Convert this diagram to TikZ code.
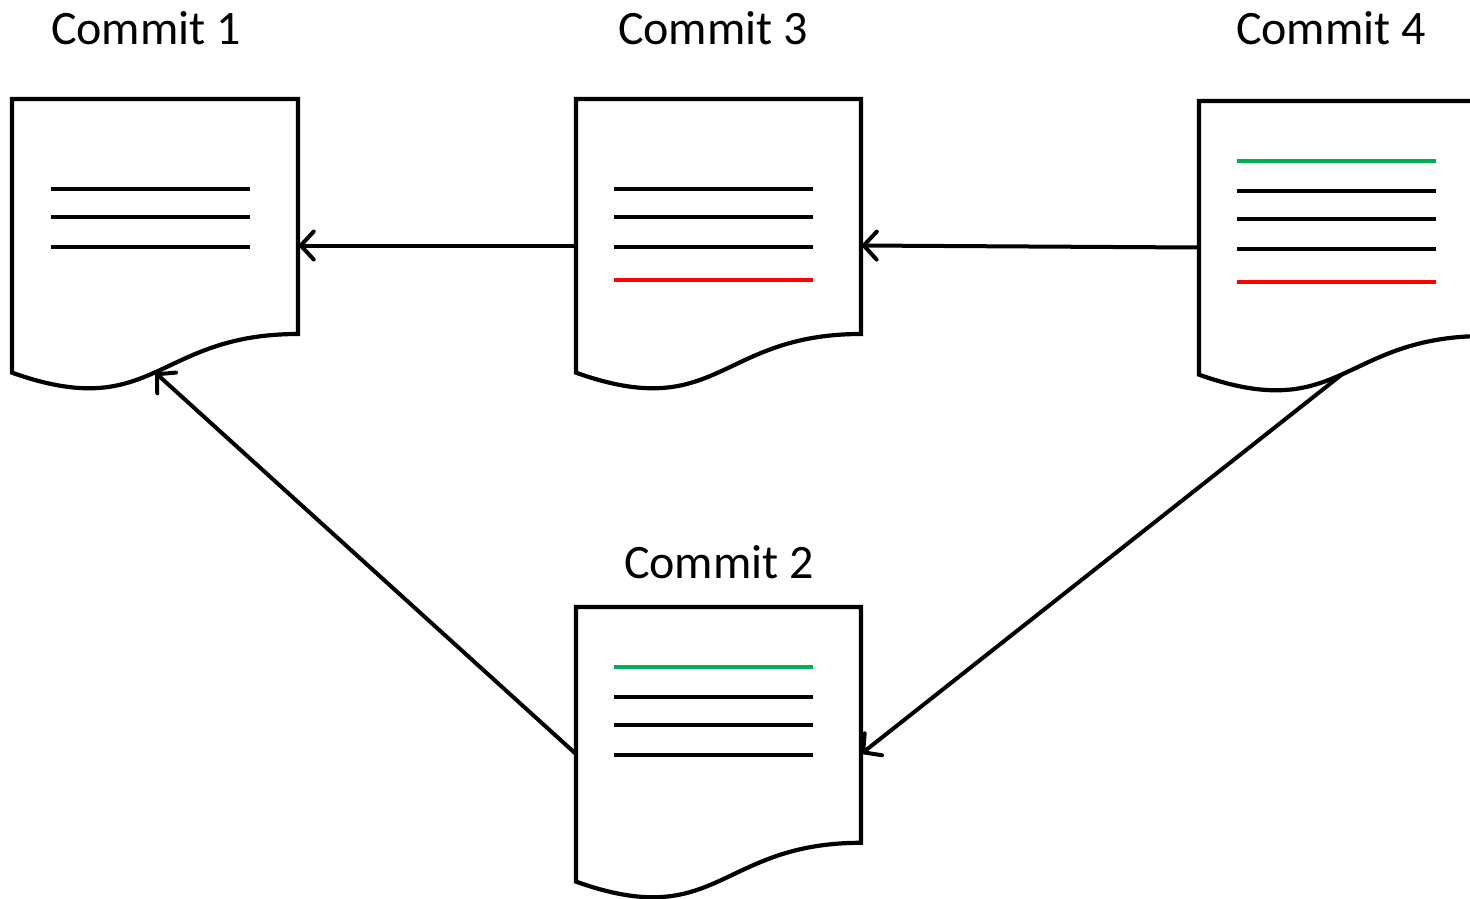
\documentclass[tikz,border=0pt]{standalone}
\usepackage{fontspec}
\setmainfont{Carlito}
\usetikzlibrary{arrows.meta}
\definecolor{okgreen}{HTML}{00B050}
\definecolor{delred}{HTML}{FF0000}
\tikzset{
  docline/.style={line width=4.2pt, line join=miter, fill=white},
  txtline/.style={line width=4.2pt},
  conn/.style={line width=4pt, -{Straight Barb[length=13pt,width=28pt,line cap=round]}},
  lbl/.style={anchor=base, inner sep=0pt, font=\fontsize{48}{52}\selectfont},
}
\newcommand\docshape[5]{%
  \pgfmathsetmacro\dxa{#2+#4}%
  \pgfmathsetmacro\dxm{#2+#4/2}%
  \pgfmathsetmacro\dyb{#3+0.802*#5}%
  \pgfmathsetmacro\dyc{#3+1.1075*#5}%
  \pgfmathsetmacro\dyd{#3+0.934*#5}%
  \pgfmathsetmacro\dym{#3+#5/2}%
  \pgfmathsetmacro\dyw{#3+0.933*#5}%
  \draw[docline] (#2,#3) -- (\dxa,#3) -- (\dxa,\dyb) .. controls (\dxm,\dyb) and (\dxm,\dyc) .. (#2,\dyd) -- cycle;
  \coordinate (#1-l) at (#2,\dym);
  \coordinate (#1-r) at (\dxa,\dym);
  \coordinate (#1-b) at (\dxm,\dyw);
}
\newcommand\tline[3]{% x, y, color
  \draw[txtline, #3] (#1+39,#2) -- (#1+238,#2);
}
\begin{document}
\begin{tikzpicture}[x=1pt,y=-1pt]
\useasboundingbox (0,0) rectangle (1470,898);
\clip (0,0) rectangle (1470,898);

% labels
\node[lbl] (t1) at (146,44) {Commit 1};
\node[lbl] (t3) at (713,44) {Commit 3};
\node[lbl] (t4) at (1331,44) {Commit 4};
\node[lbl] (t2) at (719,578) {Commit 2};

% documents
\docshape{d1}{12}{99}{286}{293}
\docshape{d3}{576}{99}{285}{293}
\docshape{d4}{1199}{101}{286}{293}
\docshape{d2}{576}{607}{285}{294}

% content lines
\tline{12}{189}{black}
\tline{12}{217}{black}
\tline{12}{247}{black}

\tline{575}{189}{black}
\tline{575}{217}{black}
\tline{575}{247}{black}
\tline{575}{280}{delred}

\tline{1198}{161}{okgreen}
\tline{1198}{191}{black}
\tline{1198}{219}{black}
\tline{1198}{249}{black}
\tline{1198}{282}{delred}

\tline{575}{667}{okgreen}
\tline{575}{697}{black}
\tline{575}{725}{black}
\tline{575}{755}{black}

% connectors
\draw[conn] (d3-l) -- (d1-r);
\draw[conn] (d4-l) -- (d3-r);
\draw[conn] (d2-l) -- (d1-b);
\draw[conn] (d4-b) -- (d2-r);
\end{tikzpicture}
\end{document}
